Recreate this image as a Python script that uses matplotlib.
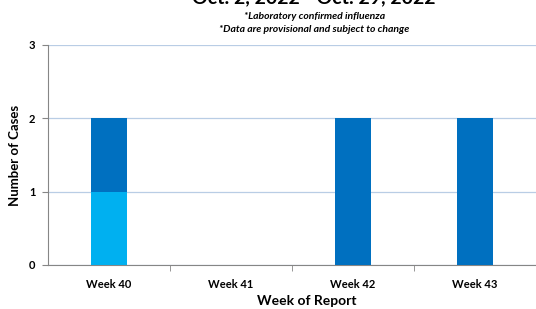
import matplotlib.pyplot as plt
import numpy as np

plt.rcParams['font.family'] = ['Lato', 'DejaVu Sans']

# data
weeks = ['Week 40', 'Week 41', 'Week 42', 'Week 43']
light_cases = [1, 0, 0, 0]
dark_cases = [1, 0, 2, 2]

light_color = '#00B0F0'
dark_color = '#0070C0'

fig = plt.figure(figsize=(5.36, 3.09), dpi=100)
ax = fig.add_axes([0.0896, 0.1424, 0.9104, 0.712])

x = np.arange(len(weeks))
ax.bar(x, light_cases, width=0.29, color=light_color, zorder=3)
ax.bar(x, dark_cases, width=0.29, bottom=light_cases, color=dark_color, zorder=3)

ax.set_xlim(-0.5, len(weeks) - 0.5)
ax.set_ylim(0, 3)
ax.set_yticks([0, 1, 2, 3])
ax.grid(axis='y', color='#B9CDE5', linewidth=0.9, zorder=0)

ax.set_xticks(x)
ax.set_xticklabels(weeks, fontsize=8, fontweight='bold')
ax.set_xticks(np.arange(0.5, len(weeks) - 0.5, 1), minor=True)
ax.tick_params(axis='x', which='major', length=0, pad=10)
ax.tick_params(axis='x', which='minor', length=4, color='#868686')
ax.tick_params(axis='y', length=4, color='#868686', labelsize=8, pad=5)
for lbl in ax.get_yticklabels():
    lbl.set_fontweight('bold')

for s in ['top', 'right']:
    ax.spines[s].set_visible(False)
ax.spines['left'].set_color('#868686')
ax.spines['bottom'].set_color('#868686')
ax.spines['left'].set_linewidth(0.8)
ax.spines['bottom'].set_linewidth(0.8)

ax.set_ylabel('Number of Cases', fontsize=9.5, fontweight='bold', labelpad=6)
ax.set_xlabel('Week of Report', fontsize=10, fontweight='bold')
ax.xaxis.set_label_coords(0.531, -0.135)

fig.text(0.586, 0.99, 'Oct. 2, 2022 - Oct. 29, 2022', ha='center', va='baseline',
         fontsize=14, fontweight='bold')
fig.text(0.586, 0.948, '*Laboratory confirmed influenza', ha='center', va='center',
         fontsize=7.5, fontweight='bold', style='italic')
fig.text(0.586, 0.905, '*Data are provisional and subject to change', ha='center', va='center',
         fontsize=7.5, fontweight='bold', style='italic')

fig.savefig('out.png', dpi=100)
